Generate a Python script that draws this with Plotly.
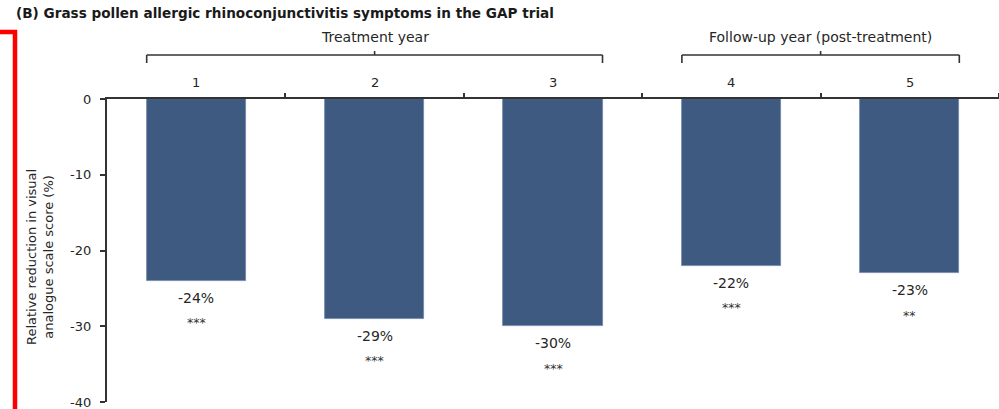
import plotly.graph_objects as go

# Study years and relative reduction in VAS score (%)
years = ["1", "2", "3", "4", "5"]
reduction = [-24, -29, -30, -22, -23]
significance = ["***", "***", "***", "***", "**"]
group_labels = ["Treatment year", "Follow-up year (post-treatment)"]
y_ticks = [0, -10, -20, -30, -40]

W, H = 999, 409
ML, MR, MT, MB = 107, 0, 99, 7
PW, PH = W - ML - MR, H - MT - MB

BAR_W = 0.555
BAR_COLOR = "#3e5a80"
TEXT = "#262626"
AXIS = "#333333"
FONT = "DejaVu Sans, Liberation Sans, Arial, sans-serif"

xpos = list(range(1, len(years) + 1))


def px_x(p):
    return (p - ML) / PW


def px_y(p):
    return (H - MB - p) / PH


fig = go.Figure()
fig.add_trace(go.Bar(
    x=xpos, y=reduction, width=BAR_W,
    marker=dict(color=BAR_COLOR, line=dict(color="#6f86a8", width=0.8)),
    hoverinfo="skip", showlegend=False,
))

annotations = []
# Year labels above the axis
for x, lab in zip(xpos, years):
    annotations.append(dict(x=x, y=1, xref="x", yref="paper", text=lab,
                            showarrow=False, yanchor="middle", yshift=17,
                            font=dict(size=13, color=TEXT)))
# Value and significance labels under each bar
for x, v, s in zip(xpos, reduction, significance):
    annotations.append(dict(x=x, y=v, xref="x", yref="y", text=f"{v}%",
                            showarrow=False, yanchor="middle", yshift=-17,
                            font=dict(size=14, color=TEXT)))
    annotations.append(dict(x=x, y=v, xref="x", yref="y", text=s,
                            showarrow=False, yanchor="middle", yshift=-42,
                            font=dict(size=12.5, color="#333333")))

# Y tick labels
for t in y_ticks:
    annotations.append(dict(x=0, y=t, xref="paper", yref="y", text=str(t),
                            showarrow=False, xanchor="right", yanchor="middle",
                            xshift=-14, font=dict(size=13, color=TEXT)))

# Y axis title
annotations.append(dict(x=px_x(40), y=px_y(257), xref="paper", yref="paper",
                        text="Relative reduction in visual<br>analogue scale score (%)",
                        textangle=-90, showarrow=False, xanchor="center", yanchor="middle",
                        font=dict(size=13, color=TEXT)))

# Group brackets: (first bar, last bar, position of centre tick)
groups = [(1, 3, 2), (4, 5, 4.5)]
shapes = []
for (a, b, mid), lab in zip(groups, group_labels):
    x0, x1 = a - BAR_W / 2, b + BAR_W / 2
    line = dict(color=AXIS, width=1.6)
    common = dict(xref="x", yref="paper", ysizemode="pixel", yanchor=1, line=line)
    shapes.append(dict(type="line", x0=x0, x1=x1, y0=44, y1=44, **common))
    shapes.append(dict(type="line", x0=x0, x1=x0, y0=44, y1=36, **common))
    shapes.append(dict(type="line", x0=x1, x1=x1, y0=44, y1=36, **common))
    shapes.append(dict(type="line", x0=mid, x1=mid, y0=44, y1=48, **common))
    annotations.append(dict(x=mid, y=1, xref="x", yref="paper", text=lab,
                            showarrow=False, yanchor="middle", yshift=62,
                            font=dict(size=14, color=TEXT)))

# Red frame marker on the left edge
red = dict(color="#ff0000", width=4.5)
shapes.append(dict(type="line", xref="paper", yref="paper",
                   x0=px_x(15), x1=px_x(15), y0=px_y(30), y1=px_y(412), line=red))
shapes.append(dict(type="line", xref="paper", yref="paper",
                   x0=px_x(-2), x1=px_x(17), y0=px_y(32), y1=px_y(32), line=red))

fig.update_layout(
    width=W, height=H,
    margin=dict(l=ML, r=MR, t=MT, b=MB),
    paper_bgcolor="white", plot_bgcolor="white",
    font=dict(family=FONT, size=13, color=TEXT),
    title=dict(text="<b>(B) Grass pollen allergic rhinoconjunctivitis symptoms in the GAP trial</b>",
               x=16 / W, xanchor="left", xref="container",
               y=1 - 13 / H, yanchor="middle", yref="container",
               font=dict(size=13.6, color="#1a1a1a")),
    xaxis=dict(range=[0.5, 5.5], side="top", showline=True, linecolor=AXIS, linewidth=1.6,
               tickvals=[1.5, 2.5, 3.5, 4.5, 5.5], ticks="outside", ticklen=4,
               tickcolor=AXIS, tickwidth=1.6, showticklabels=False,
               showgrid=False, zeroline=False, fixedrange=True),
    yaxis=dict(range=[-40, 0], tickvals=y_ticks, showticklabels=False,
               showline=True, linecolor=AXIS, linewidth=1.6,
               ticks="outside", ticklen=5, tickcolor=AXIS, tickwidth=1.6,
               showgrid=False, zeroline=False, fixedrange=True),
    annotations=annotations,
    shapes=shapes,
    bargap=0,
)

fig.write_html("out.html")
